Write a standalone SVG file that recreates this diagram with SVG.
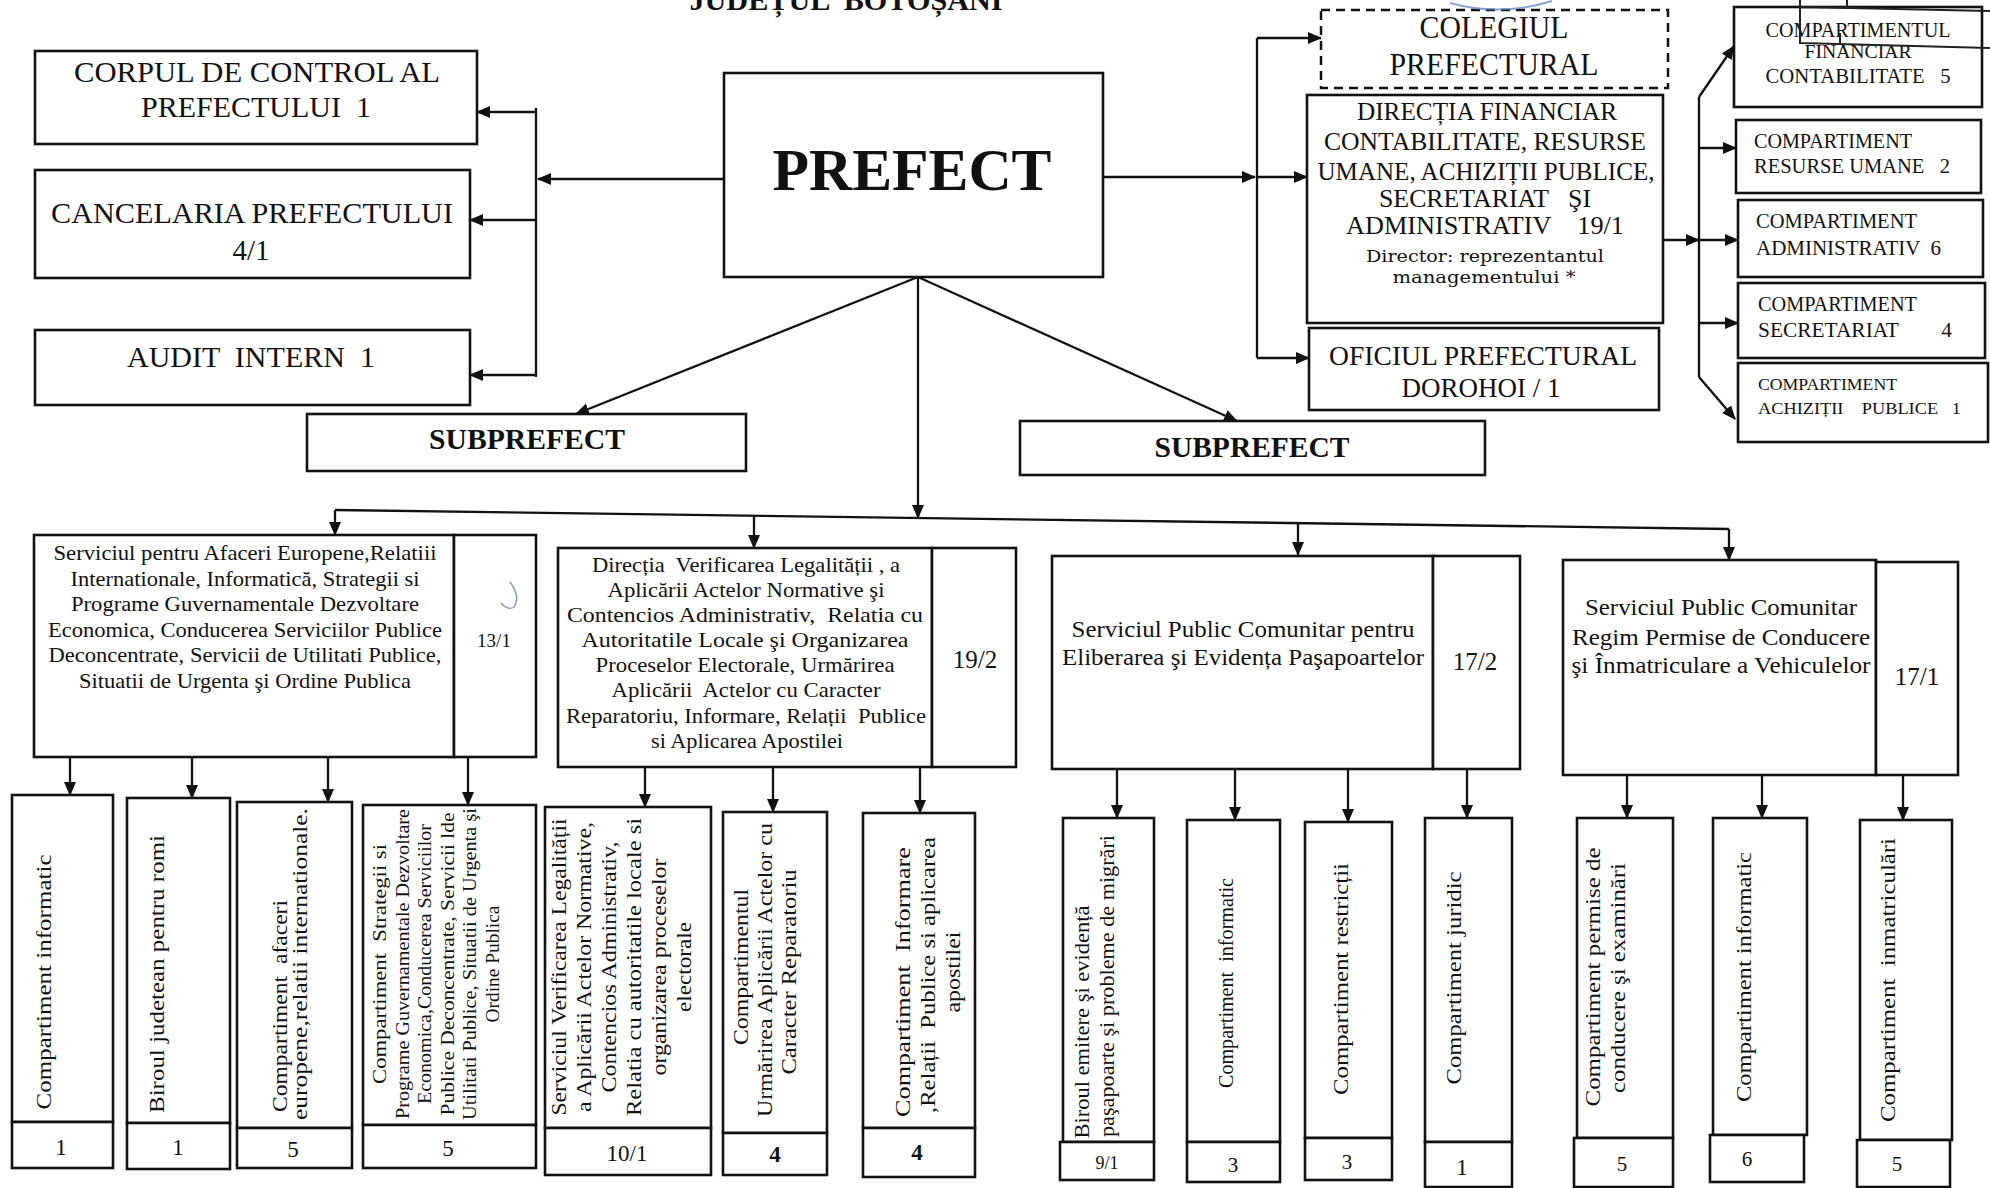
<svg xmlns="http://www.w3.org/2000/svg" width="1990" height="1188" viewBox="0 0 1990 1188" xml:space="preserve">
<defs>
<marker id="ah" markerWidth="14" markerHeight="12" refX="13" refY="6" orient="auto" markerUnits="userSpaceOnUse"><path d="M0,0 L14,6 L0,12 z" fill="#111"/></marker>
<style>
.box{fill:#fff;stroke:#111;stroke-width:2.6}
.dash{fill:#fff;stroke:#111;stroke-width:2.5;stroke-dasharray:9 6}
.c{fill:none;stroke:#111;stroke-width:2.3}
.a{fill:none;stroke:#111;stroke-width:2.3;marker-end:url(#ah)}
text{font-family:'Liberation Serif','Times New Roman',serif;fill:#111;white-space:pre}
.m{text-anchor:middle}
.b{font-weight:bold}
.d{font-family:'DejaVu Serif',serif}
</style>
</defs>
<rect width="1990" height="1188" fill="#fff"/>
<g id="title"><text class="m b" x="846" y="10" font-size="30" textLength="313" lengthAdjust="spacingAndGlyphs">JUDEȚUL  BOTOȘANI</text></g>
<g id="connectors">
<path class="a" d="M724,179 H538"/>
<path class="c" d="M536,108 V377"/>
<path class="a" d="M536,112 H477"/>
<path class="a" d="M536,220 H470"/>
<path class="a" d="M536,375 H470"/>
<path class="a" d="M1103,177 H1255"/>
<path class="a" d="M1257,177 H1307"/>
<path class="c" d="M1257,38 V358"/>
<path class="a" d="M1257,38 H1321"/>
<path class="a" d="M1257,358 H1309"/>
<path class="a" d="M918,277 L576,414"/>
<path class="a" d="M918,277 L1237,421"/>
<path class="a" d="M918,277 V518"/>
<path class="c" d="M1699,97 V377"/>
<path class="a" d="M1699,97 L1734,46"/>
<path class="a" d="M1699,377 L1735,419"/>
<path class="a" d="M1699,148 H1736"/>
<path class="a" d="M1663,240 H1699"/>
<path class="a" d="M1699,240 H1738"/>
<path class="a" d="M1699,323 H1738"/>
<path class="c" d="M335,510 L1729,529"/>
<path class="a" d="M335,510 V535"/>
<path class="a" d="M754,516 V548"/>
<path class="a" d="M1298,523 V555"/>
<path class="a" d="M1729,529 V560"/>
<path class="a" d="M70,757 V795"/>
<path class="a" d="M192,757 V798"/>
<path class="a" d="M328,757 V802"/>
<path class="a" d="M468,757 V805"/>
<path class="a" d="M645,767 V807"/>
<path class="a" d="M773,767 V812"/>
<path class="a" d="M920,767 V813"/>
<path class="a" d="M1117,769 V818"/>
<path class="a" d="M1235,769 V820"/>
<path class="a" d="M1348,769 V822"/>
<path class="a" d="M1467,769 V818"/>
<path class="a" d="M1627,775 V818"/>
<path class="a" d="M1762,775 V818"/>
<path class="a" d="M1903,775 V820"/>
</g>
<g id="corpul"><rect class="box" x="35" y="51" width="442" height="93"/>
<text class="m" x="257" y="82" font-size="29" textLength="366" lengthAdjust="spacingAndGlyphs">CORPUL DE CONTROL AL</text>
<text class="m" x="256" y="117" font-size="29" textLength="230" lengthAdjust="spacingAndGlyphs">PREFECTULUI  1</text></g>
<g id="cancelaria"><rect class="box" x="35" y="170" width="435" height="108"/>
<text class="m" x="252" y="223" font-size="29" textLength="402" lengthAdjust="spacingAndGlyphs">CANCELARIA PREFECTULUI</text>
<text class="m" x="251" y="260" font-size="29">4/1</text></g>
<g id="audit"><rect class="box" x="35" y="330" width="435" height="75"/>
<text class="m" x="251" y="367" font-size="29" textLength="248" lengthAdjust="spacingAndGlyphs">AUDIT  INTERN  1</text></g>
<g id="prefect"><rect class="box" x="724" y="73" width="379" height="204"/>
<text class="m b" x="912" y="190" font-size="60" textLength="279" lengthAdjust="spacingAndGlyphs">PREFECT</text></g>
<g id="subprefect-left"><rect class="box" x="307" y="414" width="439" height="57"/>
<text class="m b" x="527" y="449" font-size="30" textLength="196" lengthAdjust="spacingAndGlyphs">SUBPREFECT</text></g>
<g id="subprefect-right"><rect class="box" x="1020" y="421" width="465" height="54"/>
<text class="m b" x="1252" y="457" font-size="30" textLength="195" lengthAdjust="spacingAndGlyphs">SUBPREFECT</text></g>
<g id="colegiul"><rect class="dash" x="1321" y="10" width="347" height="78"/>
<text class="m" x="1494" y="38" font-size="31" textLength="149" lengthAdjust="spacingAndGlyphs">COLEGIUL</text>
<text class="m" x="1494" y="75" font-size="31" textLength="209" lengthAdjust="spacingAndGlyphs">PREFECTURAL</text></g>
<g id="directia"><rect class="box" x="1307" y="95" width="356" height="228"/>
<text class="m" x="1487" y="120" font-size="26" textLength="260" lengthAdjust="spacingAndGlyphs">DIRECȚIA FINANCIAR</text>
<text class="m" x="1485" y="150" font-size="26" textLength="322" lengthAdjust="spacingAndGlyphs">CONTABILITATE, RESURSE</text>
<text class="m" x="1486" y="180" font-size="26" textLength="337" lengthAdjust="spacingAndGlyphs">UMANE, ACHIZIȚII PUBLICE,</text>
<text class="m" x="1485" y="207" font-size="26" textLength="212" lengthAdjust="spacingAndGlyphs">SECRETARIAT   ŞI</text>
<text class="m" x="1485" y="234" font-size="26" textLength="278" lengthAdjust="spacingAndGlyphs">ADMINISTRATIV    19/1</text>
<text class="m d" x="1485" y="262" font-size="17" textLength="238" lengthAdjust="spacingAndGlyphs">Director: reprezentantul</text>
<text class="m d" x="1484" y="283" font-size="17" textLength="183" lengthAdjust="spacingAndGlyphs">managementului *</text></g>
<g id="oficiul"><rect class="box" x="1309" y="328" width="350" height="82"/>
<text class="m" x="1483" y="365" font-size="28" textLength="308" lengthAdjust="spacingAndGlyphs">OFICIUL PREFECTURAL</text>
<text class="m" x="1481" y="397" font-size="28" textLength="159" lengthAdjust="spacingAndGlyphs">DOROHOI / 1</text></g>
<g id="c-financiar"><rect class="box" x="1734" y="7" width="248" height="100"/>
<text class="m" x="1858" y="37" font-size="20" textLength="185" lengthAdjust="spacingAndGlyphs">COMPARTIMENTUL</text>
<text class="m" x="1858" y="58" font-size="18" textLength="107" lengthAdjust="spacingAndGlyphs">FINANCIAR</text>
<text class="m" x="1858" y="83" font-size="20" textLength="185" lengthAdjust="spacingAndGlyphs">CONTABILITATE   5</text></g>
<g id="c-resurse"><rect class="box" x="1736" y="120" width="245" height="73"/>
<text x="1754" y="148" font-size="20" textLength="158" lengthAdjust="spacingAndGlyphs">COMPARTIMENT</text>
<text x="1754" y="173" font-size="20" textLength="196" lengthAdjust="spacingAndGlyphs">RESURSE UMANE   2</text></g>
<g id="c-administrativ"><rect class="box" x="1738" y="200" width="245" height="77"/>
<text x="1756" y="228" font-size="20" textLength="161" lengthAdjust="spacingAndGlyphs">COMPARTIMENT</text>
<text x="1756" y="255" font-size="20" textLength="185" lengthAdjust="spacingAndGlyphs">ADMINISTRATIV  6</text></g>
<g id="c-secretariat"><rect class="box" x="1738" y="283" width="247" height="75"/>
<text x="1758" y="311" font-size="20" textLength="159" lengthAdjust="spacingAndGlyphs">COMPARTIMENT</text>
<text x="1758" y="337" font-size="20" textLength="194" lengthAdjust="spacingAndGlyphs">SECRETARIAT        4</text></g>
<g id="c-achizitii"><rect class="box" x="1738" y="363" width="250" height="79"/>
<text x="1758" y="390" font-size="17" textLength="139" lengthAdjust="spacingAndGlyphs">COMPARTIMENT</text>
<text x="1758" y="414" font-size="17" textLength="203" lengthAdjust="spacingAndGlyphs">ACHIZIȚII    PUBLICE   1</text></g>
<g id="s-afaceri"><rect class="box" x="34" y="535" width="420" height="222"/><rect class="box" x="454" y="535" width="82" height="222"/>
<text class="m" x="245" y="560" font-size="21" textLength="383" lengthAdjust="spacingAndGlyphs">Serviciul pentru Afaceri Europene,Relatiii</text>
<text class="m" x="245" y="586" font-size="21" textLength="349" lengthAdjust="spacingAndGlyphs">Internationale, Informatică, Strategii si</text>
<text class="m" x="245" y="611" font-size="21" textLength="348" lengthAdjust="spacingAndGlyphs">Programe Guvernamentale Dezvoltare</text>
<text class="m" x="245" y="637" font-size="21" textLength="394" lengthAdjust="spacingAndGlyphs">Economica, Conducerea Serviciilor Publice</text>
<text class="m" x="245" y="662" font-size="21" textLength="393" lengthAdjust="spacingAndGlyphs">Deconcentrate, Servicii de Utilitati Publice,</text>
<text class="m" x="245" y="688" font-size="21" textLength="332" lengthAdjust="spacingAndGlyphs">Situatii de Urgenta şi Ordine Publica</text>
<text class="m" x="494" y="647" font-size="19">13/1</text>
<path d="M510,582 Q521,597 514,607 Q508,611 501,603" fill="none" stroke="#8a9bb5" stroke-width="1.5"/></g>
<g id="d-verificare"><rect class="box" x="558" y="548" width="374" height="219"/><rect class="box" x="932" y="548" width="84" height="219"/>
<text class="m" x="746" y="572" font-size="21" textLength="308" lengthAdjust="spacingAndGlyphs">Direcția  Verificarea Legalității , a</text>
<text class="m" x="746" y="597" font-size="21" textLength="277" lengthAdjust="spacingAndGlyphs">Aplicării Actelor Normative şi</text>
<text class="m" x="745" y="622" font-size="21" textLength="356" lengthAdjust="spacingAndGlyphs">Contencios Administrativ,  Relatia cu</text>
<text class="m" x="745" y="647" font-size="21" textLength="327" lengthAdjust="spacingAndGlyphs">Autoritatile Locale şi Organizarea</text>
<text class="m" x="745" y="672" font-size="21" textLength="299" lengthAdjust="spacingAndGlyphs">Proceselor Electorale, Urmărirea</text>
<text class="m" x="746" y="697" font-size="21" textLength="269" lengthAdjust="spacingAndGlyphs">Aplicării  Actelor cu Caracter</text>
<text class="m" x="746" y="723" font-size="21" textLength="360" lengthAdjust="spacingAndGlyphs">Reparatoriu, Informare, Relații  Publice</text>
<text class="m" x="747" y="748" font-size="21" textLength="192" lengthAdjust="spacingAndGlyphs">si Aplicarea Apostilei</text>
<text class="m" x="975" y="668" font-size="25">19/2</text></g>
<g id="s-pasapoarte"><rect class="box" x="1052" y="556" width="381" height="213"/><rect class="box" x="1433" y="556" width="87" height="213"/>
<text class="m" x="1243" y="637" font-size="24" textLength="343" lengthAdjust="spacingAndGlyphs">Serviciul Public Comunitar pentru</text>
<text class="m" x="1243" y="665" font-size="24" textLength="362" lengthAdjust="spacingAndGlyphs">Eliberarea şi Evidența Paşapoartelor</text>
<text class="m" x="1475" y="670" font-size="25">17/2</text></g>
<g id="s-permise"><rect class="box" x="1563" y="560" width="313" height="215"/><rect class="box" x="1876" y="562" width="82" height="213"/>
<text class="m" x="1721" y="615" font-size="23" textLength="272" lengthAdjust="spacingAndGlyphs">Serviciul Public Comunitar</text>
<text class="m" x="1721" y="645" font-size="23" textLength="298" lengthAdjust="spacingAndGlyphs">Regim Permise de Conducere</text>
<text class="m" x="1721" y="673" font-size="23" textLength="299" lengthAdjust="spacingAndGlyphs">şi Înmatriculare a Vehiculelor</text>
<text class="m" x="1917" y="685" font-size="25">17/1</text></g>
<g id="c-informatic-1"><rect class="box" x="12" y="795" width="101" height="327"/><rect class="box" x="12" y="1122" width="101" height="46"/>
<text class="m" transform="translate(51,982) rotate(-90)" font-size="21" textLength="255" lengthAdjust="spacingAndGlyphs">Compartiment informatic</text>
<text class="m" x="61" y="1155" font-size="23">1</text></g>
<g id="b-romi"><rect class="box" x="127" y="798" width="103" height="325"/><rect class="box" x="127" y="1123" width="103" height="46"/>
<text class="m" transform="translate(164,974) rotate(-90)" font-size="21" textLength="278" lengthAdjust="spacingAndGlyphs">Biroul judetean pentru romi</text>
<text class="m" x="178" y="1155" font-size="23">1</text></g>
<g id="c-afaceri"><rect class="box" x="237" y="802" width="115" height="326"/><rect class="box" x="237" y="1128" width="115" height="40"/>
<text class="m" transform="translate(287,1006) rotate(-90)" font-size="20" textLength="212" lengthAdjust="spacingAndGlyphs">Compartiment  afaceri</text>
<text class="m" transform="translate(307,964) rotate(-90)" font-size="20" textLength="312" lengthAdjust="spacingAndGlyphs">europene,relatii internationale.</text>
<text class="m" x="293" y="1157" font-size="23">5</text></g>
<g id="c-strategii"><rect class="box" x="363" y="805" width="173" height="320"/><rect class="box" x="363" y="1125" width="173" height="43"/>
<text class="m" transform="translate(386,964) rotate(-90)" font-size="18.5" textLength="240" lengthAdjust="spacingAndGlyphs">Compartiment  Strategii si</text>
<text class="m" transform="translate(408.5,964) rotate(-90)" font-size="18.5" textLength="310" lengthAdjust="spacingAndGlyphs">Programe Guvernamentale Dezvoltare</text>
<text class="m" transform="translate(431,964) rotate(-90)" font-size="18.5" textLength="280" lengthAdjust="spacingAndGlyphs">Economica,Conducerea Serviciilor</text>
<text class="m" transform="translate(453.5,964) rotate(-90)" font-size="18.5" textLength="303" lengthAdjust="spacingAndGlyphs">Publice Deconcentrate, Servicii lde</text>
<text class="m" transform="translate(476,964) rotate(-90)" font-size="18.5" textLength="312" lengthAdjust="spacingAndGlyphs">Utilitati Publice, Situatii de Urgenta şi</text>
<text class="m" transform="translate(498.5,964) rotate(-90)" font-size="18.5" textLength="117" lengthAdjust="spacingAndGlyphs">Ordine Publica</text>
<text class="m" x="448" y="1156" font-size="23">5</text></g>
<g id="s-verificare"><rect class="box" x="545" y="807" width="166" height="321"/><rect class="box" x="545" y="1128" width="166" height="47"/>
<text class="m" transform="translate(566,967) rotate(-90)" font-size="20" textLength="297" lengthAdjust="spacingAndGlyphs">Serviciul Verificarea Legalității</text>
<text class="m" transform="translate(591,967) rotate(-90)" font-size="20" textLength="290" lengthAdjust="spacingAndGlyphs">a Aplicării Actelor Normative,</text>
<text class="m" transform="translate(616,967) rotate(-90)" font-size="20" textLength="251" lengthAdjust="spacingAndGlyphs">Contencios Administrativ,</text>
<text class="m" transform="translate(641,967) rotate(-90)" font-size="20" textLength="298" lengthAdjust="spacingAndGlyphs">Relatia cu autoritatile locale si</text>
<text class="m" transform="translate(666,967) rotate(-90)" font-size="20" textLength="217" lengthAdjust="spacingAndGlyphs">organizarea proceselor</text>
<text class="m" transform="translate(691,967) rotate(-90)" font-size="20" textLength="90" lengthAdjust="spacingAndGlyphs">electorale</text>
<text class="m" x="627" y="1161" font-size="23">10/1</text></g>
<g id="c-urmarire"><rect class="box" x="723" y="812" width="104" height="321"/><rect class="box" x="723" y="1133" width="104" height="42"/>
<text class="m" transform="translate(748,967) rotate(-90)" font-size="20" textLength="156" lengthAdjust="spacingAndGlyphs">Compartimentul</text>
<text class="m" transform="translate(772,970) rotate(-90)" font-size="20" textLength="294" lengthAdjust="spacingAndGlyphs">Urmărirea Aplicării Actelor cu</text>
<text class="m" transform="translate(796,972) rotate(-90)" font-size="20" textLength="205" lengthAdjust="spacingAndGlyphs">Caracter Reparatoriu</text>
<text class="m b" x="775" y="1162" font-size="23">4</text></g>
<g id="c-informare"><rect class="box" x="863" y="813" width="112" height="315"/><rect class="box" x="863" y="1128" width="112" height="49"/>
<text class="m" transform="translate(910,982) rotate(-90)" font-size="20" textLength="270" lengthAdjust="spacingAndGlyphs">Compartiment  Informare</text>
<text class="m" transform="translate(935,975) rotate(-90)" font-size="20" textLength="276" lengthAdjust="spacingAndGlyphs">,Relații  Publice si aplicarea</text>
<text class="m" transform="translate(960,972) rotate(-90)" font-size="20" textLength="81" lengthAdjust="spacingAndGlyphs">apostilei</text>
<text class="m b" x="917" y="1160" font-size="23">4</text></g>
<g id="b-emitere"><rect class="box" x="1063" y="818" width="91" height="324"/><rect class="box" x="1060" y="1142" width="94" height="38"/>
<text class="m" transform="translate(1089,1022) rotate(-90)" font-size="22" textLength="233" lengthAdjust="spacingAndGlyphs">Biroul emitere şi evidență</text>
<text class="m" transform="translate(1114,986) rotate(-90)" font-size="22" textLength="302" lengthAdjust="spacingAndGlyphs">paşapoarte şi probleme de migrări</text>
<text class="m" x="1107" y="1169" font-size="18">9/1</text></g>
<g id="c-informatic-2"><rect class="box" x="1187" y="820" width="93" height="322"/><rect class="box" x="1187" y="1142" width="93" height="40"/>
<text class="m" transform="translate(1233,983) rotate(-90)" font-size="20" textLength="210" lengthAdjust="spacingAndGlyphs">Compartiment  informatic</text>
<text class="m" x="1233" y="1172" font-size="21">3</text></g>
<g id="c-restrictii"><rect class="box" x="1305" y="822" width="87" height="316"/><rect class="box" x="1305" y="1138" width="87" height="42"/>
<text class="m" transform="translate(1348,979) rotate(-90)" font-size="20" textLength="232" lengthAdjust="spacingAndGlyphs">Compartiment restricții</text>
<text class="m" x="1347" y="1169" font-size="21">3</text></g>
<g id="c-juridic"><rect class="box" x="1425" y="818" width="87" height="324"/><rect class="box" x="1425" y="1142" width="87" height="45"/>
<text class="m" transform="translate(1461,978) rotate(-90)" font-size="20" textLength="213" lengthAdjust="spacingAndGlyphs">Compartiment juridic</text>
<text class="m" x="1462" y="1175" font-size="23">1</text></g>
<g id="c-permise"><rect class="box" x="1577" y="818" width="96" height="320"/><rect class="box" x="1574" y="1138" width="99" height="49"/>
<text class="m" transform="translate(1600,977) rotate(-90)" font-size="20" textLength="259" lengthAdjust="spacingAndGlyphs">Compartiment permise de</text>
<text class="m" transform="translate(1625,978) rotate(-90)" font-size="20" textLength="230" lengthAdjust="spacingAndGlyphs">conducere şi examinări</text>
<text class="m" x="1622" y="1171" font-size="21">5</text></g>
<g id="c-informatic-3"><rect class="box" x="1713" y="818" width="94" height="317"/><rect class="box" x="1710" y="1135" width="94" height="47"/>
<text class="m" transform="translate(1751,977) rotate(-90)" font-size="20" textLength="250" lengthAdjust="spacingAndGlyphs">Compartiment informatic</text>
<text class="m" x="1747" y="1166" font-size="21">6</text></g>
<g id="c-inmatriculari"><rect class="box" x="1860" y="820" width="92" height="320"/><rect class="box" x="1857" y="1140" width="93" height="47"/>
<text class="m" transform="translate(1895,980) rotate(-90)" font-size="20" textLength="284" lengthAdjust="spacingAndGlyphs">Compartiment  inmatriculări</text>
<text class="m" x="1897" y="1171" font-size="21">5</text></g>
<g id="scan-marks" fill="none">
<path d="M1800,0 V43 L1990,48 M1800,7 L1990,11 M1847,0 V7 M1840,33 V43" stroke="#222" stroke-width="2"/>
<path d="M1450,3 Q1500,17 1552,1" stroke="#5a7fc0" stroke-width="2" opacity="0.7"/>
</g>
</svg>
